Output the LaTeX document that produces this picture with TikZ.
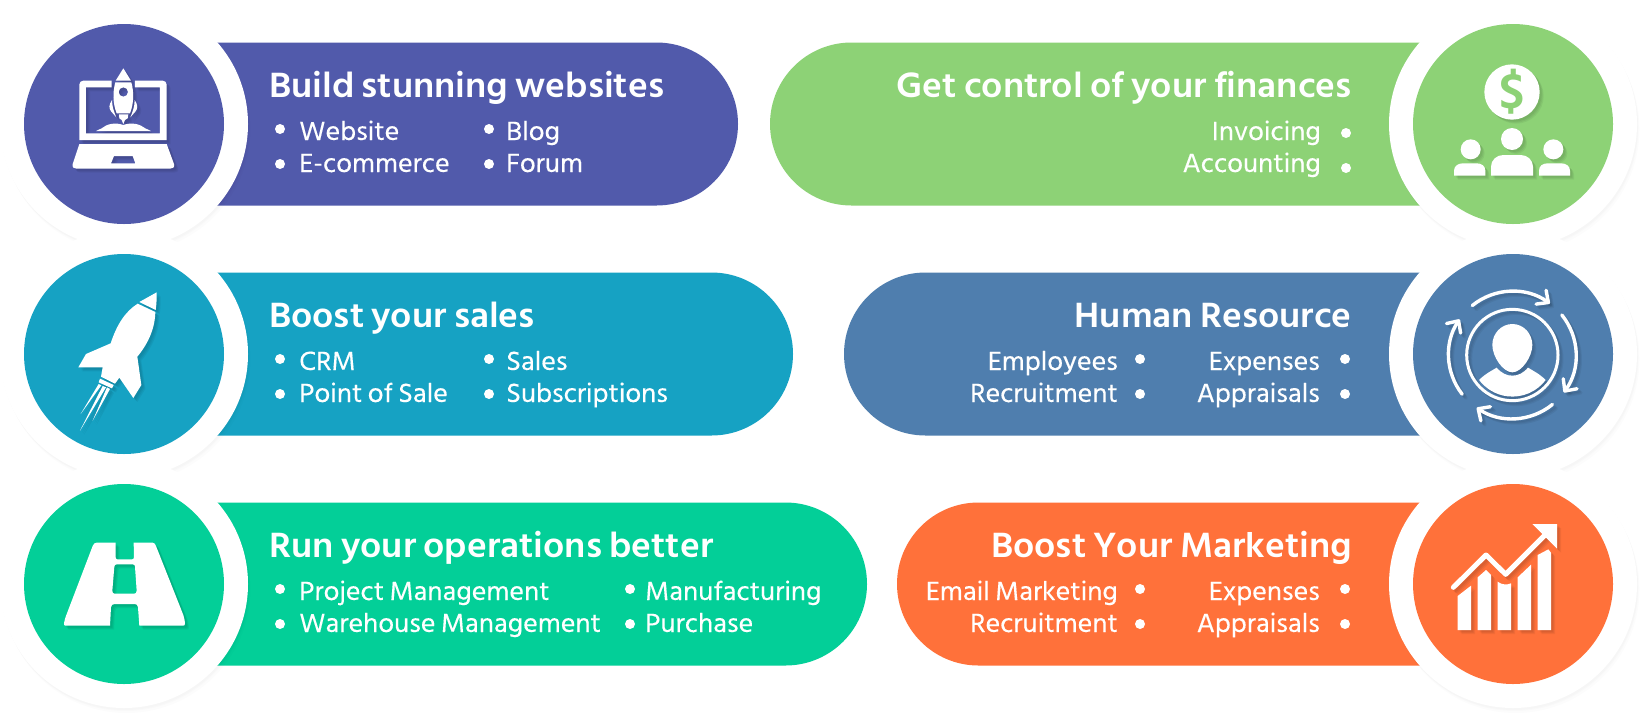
\documentclass[tikz,border=0pt]{standalone}
\usepackage{fontspec}
\setmainfont{Hind Siliguri}
\newfontfamily\titlefont{Hind Siliguri}[FakeStretch=1.045,WordSpace=0.8]
\newfontfamily\itemfont{Hind Siliguri}[FakeStretch=1.04,FakeBold=0.25,WordSpace=0.85]
\usetikzlibrary{arrows.meta}
\definecolor{buildblue}{HTML}{515AAB}
\definecolor{salesblue}{HTML}{16A2C3}
\definecolor{opsgreen}{HTML}{03CF98}
\definecolor{financegreen}{HTML}{8DD276}
\definecolor{hrblue}{HTML}{4F7EAE}
\definecolor{marketorange}{HTML}{FF713A}
\tikzset{
  bandtitle/.style={text=white,inner sep=0pt,font=\titlefont\fontsize{36}{36}\selectfont\bfseries},
  itemtext/.style={text=white,inner sep=0pt,font=\itemfont\fontsize{27}{27}\selectfont},
  barbtip/.style={-{Straight Barb[length=9pt,width=17pt,round]},line width=3.4pt,line cap=round}
}
\newcommand{\softshadow}[1]{%
  \foreach \d in {2,3,4}
  {
  \begin{scope}[shift={(\d,\d)},black,opacity=0.05] #1 \end{scope}
  }
  \begin{scope}[white] #1 \end{scope}
}
\newcommand{\laptopicon}{%
  \begin{scope}[scale=1/3]
  \fill (335,242) -- (250,242) .. controls (243,242) and (238,247) .. (238,254) -- (238,420) -- (500,420) -- (500,254) .. controls (500,247) and (495,242) .. (488,242) -- (405,242) -- (405,262) -- (480,262) -- (480,400) -- (258,400) -- (258,262) -- (335,262) -- cycle;
  \fill[even odd rule] (238,432) -- (500,432) -- (522,492) .. controls (524,503) and (518,506) .. (510,506) -- (230,506) .. controls (222,506) and (216,503) .. (218,492) -- cycle (342,468) -- (398,468) -- (406,490) -- (333,490) -- cycle;
  \fill (370,205) -- (393,242) -- (347,242) -- cycle;
  \fill[even odd rule] (346,247) -- (394,247) .. controls (402,275) and (402,310) .. (390,340) -- (350,340) .. controls (338,310) and (338,275) .. (346,247) -- cycle (370,276) circle (14);
  \fill (336,300) .. controls (326,315) and (326,325) .. (334,335) -- (349,352) .. controls (342,335) and (336,320) .. (336,300) -- cycle;
  \fill (404,300) .. controls (414,315) and (414,325) .. (406,335) -- (391,352) .. controls (398,335) and (404,320) .. (404,300) -- cycle;
  \fill (357,343) -- (385,343) -- (383,355) -- (375,360) -- (370,372) -- (365,360) -- (358,355) -- cycle;
  \fill (288,393) -- (305,385) .. controls (320,372) and (345,366) .. (370,375) .. controls (395,366) and (420,372) .. (436,385) -- (453,393) -- cycle;
  \end{scope}
}
\newcommand{\peopleicon}{%
  \begin{scope}[shift={(1340,0)},scale=1/3]
  \fill (516,276) circle (83);
  \fill (516,417) circle (33);
  \fill (392,448) circle (30);
  \fill (640,448) circle (30);
  \fill (453,527) -- (453,500) .. controls (453,480) and (470,465) .. (490,465) -- (542,465) .. controls (562,465) and (579,480) .. (579,500) -- (579,527) -- cycle;
  \fill (342,527) -- (342,512) .. controls (342,498) and (355,490) .. (368,490) -- (410,490) .. controls (425,490) and (436,498) .. (436,512) -- (436,527) -- cycle;
  \fill (597,527) -- (597,512) .. controls (597,498) and (608,490) .. (622,490) -- (664,490) .. controls (678,490) and (690,498) .. (690,512) -- (690,527) -- cycle;
  \end{scope}
}
\newcommand{\rocketicon}{%
  \begin{scope}[shift={(0,240)},scale=1/3]
  \fill (470,157) -- (418,186) -- (467,210) .. controls (470,190) and (470,175) .. (470,157) -- cycle;
  \fill (413,191) -- (466,216) .. controls (465,265) and (445,310) .. (412,350) -- (424,435) -- (400,474) -- (358,413) -- (345,431) -- (303,410) -- (308,382) -- (235,382) -- (258,342) -- (332,310) .. controls (350,255) and (375,215) .. (413,191) -- cycle;
  \fill (300,416) -- (341,435) -- (336,445) -- (296,427) -- cycle;
  \fill (296,432) -- (304,436) -- (242,522) -- cycle;
  \fill (321,442) -- (330,447) -- (278,542) -- cycle;
  \fill (308,438) -- (318,442) -- (240,572) -- cycle;
  \end{scope}
}
\newcommand{\personicon}{%
  \begin{scope}[shift={(1380,240)},scale=1/3]
  \draw[line width=3pt] (397,345) circle (137);
  \fill (397,252) .. controls (430,252) and (457,280) .. (457,315) .. controls (457,350) and (425,397) .. (397,397) .. controls (369,397) and (337,350) .. (337,315) .. controls (337,280) and (364,252) .. (397,252) -- cycle;
  \fill (297,420) .. controls (315,402) and (335,392) .. (350,383) .. controls (365,400) and (380,407) .. (397,407) .. controls (414,407) and (429,400) .. (444,383) .. controls (459,392) and (479,402) .. (497,420) arc (37:143:125) -- cycle;
  \draw[barbtip] (397,345) ++(-129:191) arc (-129:-54:191);
  \draw[barbtip] (397,345) ++(-39:191) arc (-39:36:191);
  \draw[barbtip] (397,345) ++(51:191) arc (51:124:191);
  \draw[barbtip] (397,345) ++(142:191) arc (142:214:191);
  \end{scope}
}
\newcommand{\roadicon}{%
  \begin{scope}[shift={(0,470)},scale=1/3]
  \fill[even odd rule] (347,218) -- (347,262) .. controls (347,266) and (349,268) .. (352,268) -- (396,268) .. controls (399,268) and (402,266) .. (402,262) -- (401,218) -- (458,218) .. controls (463,218) and (466,222) .. (468,228) -- (550,435) .. controls (553,445) and (555,455) .. (555,460) .. controls (555,465) and (553,467) .. (550,467) -- (418,467) -- (414,412) .. controls (413,405) and (410,402) .. (404,402) -- (344,402) .. controls (337,402) and (334,405) .. (333,412) -- (330,467) -- (197,467) .. controls (193,467) and (191,465) .. (192,460) .. controls (193,452) and (196,442) .. (199,435) -- (278,228) .. controls (281,221) and (284,218) .. (290,218) -- cycle
    (350,283) -- (398,283) .. controls (403,283) and (405,286) .. (405,290) -- (410,362) .. controls (410,368) and (407,371) .. (403,371) -- (344,371) .. controls (339,371) and (337,368) .. (337,362) -- (343,290) .. controls (343,286) and (346,283) .. (350,283) -- cycle;
  \end{scope}
}
\newcommand{\charticon}{%
  \begin{scope}[shift={(1380,470)},scale=1/3]
  \fill (233,480) -- (233,378) -- (273,347) -- (273,480) -- cycle;
  \fill (293,480) -- (293,322) -- (318,300) -- (333,315) -- (333,480) -- cycle;
  \fill (353,480) -- (353,335) .. controls (365,345) and (381,345) .. (393,340) -- (393,480) -- cycle;
  \fill (413,480) -- (413,322) -- (453,284) -- (453,480) -- cycle;
  \fill (473,480) -- (473,255) -- (505,238) -- (513,248) -- (513,480) -- cycle;
  \draw[line width=5pt,line cap=round,line join=round] (220,352) -- (318,255) -- (377,313) -- (495,195);
  \fill (457,162) -- (531,162) -- (531,236) -- cycle;
  \end{scope}
}
\begin{document}
\begin{tikzpicture}[x=1pt,y=1pt,yscale=-1]
  \useasboundingbox (0,0) rectangle (1640,713);
  \fill[white] (0,0) rectangle (1640,713);

  \foreach \cy/\xe/\col in {124/738/buildblue,354/793/salesblue,584/867/opsgreen}
  {
  \fill[\col] (200,\cy-81.5) -- (\xe-81.5,\cy-81.5) arc (-90:90:81.5) -- (200,\cy+81.5) -- cycle;
  }
  \foreach \cy/\xs/\col in {124/770/financegreen,354/844/hrblue,584/897/marketorange}
  {
  \fill[\col] (1440,\cy-81.5) -- (\xs+81.5,\cy-81.5) arc (-90:-270:81.5) -- (1440,\cy+81.5) -- cycle;
  }

  \foreach \cx in {124,1513}
  {
  \foreach \cy in {124,354,584}
  {
  \foreach \d in {2,3,5}
  {
  \fill[black,opacity=0.012] (\cx+\d/2,\cy+\d) circle (124);
  }
  }
  }
  \foreach \cx in {124,1513}
  {
  \foreach \cy in {124,354,584}
  {
  \fill[white] (\cx,\cy) circle (124);
  }
  }
  \foreach \cx/\cy/\col in {124/124/buildblue,124/354/salesblue,124/584/opsgreen,1513/124/financegreen,1513/354/hrblue,1513/584/marketorange}
  {
  \fill[\col] (\cx,\cy) circle (100);
  }

  \softshadow{\laptopicon}
  \softshadow{\peopleicon}
  \softshadow{\rocketicon}
  \softshadow{\personicon}
  \softshadow{\roadicon}
  \softshadow{\charticon}
  \node[text=financegreen,inner sep=0pt,font=\fontsize{50}{50}\selectfont\bfseries] (dollar) at (1512,92) {\$};

  \node[bandtitle,anchor=base west] (buildtitle) at (269,97) {Build stunning websites};
  \node[bandtitle,anchor=base west] (salestitle) at (269,327) {Boost your sales};
  \node[bandtitle,anchor=base west] (opstitle) at (269,557) {Run your operations better};
  \node[bandtitle,anchor=base east] (financetitle) at (1352,97) {Get control of your finances};
  \node[bandtitle,anchor=base east] (hrtitle) at (1352,327) {Human Resource};
  \node[bandtitle,anchor=base east] (markettitle) at (1352,557) {Boost Your Marketing};

  \foreach \nm/\bx/\tx/\row/\txt in {website/280/299/0/Website,ecommerce/280/299/1/E-commerce,blog/489/506/0/Blog,forum/489/506/1/Forum}
  {
  \fill[white] (\bx,129+35*\row) circle (5);
  \node[itemtext,anchor=base west] (\nm) at (\tx,140+32*\row) {\txt};
  }
  \foreach \nm/\bx/\tx/\row/\txt in {crm/280/299/0/CRM,pointofsale/280/299/1/Point of Sale,sales/489/506/0/Sales,subscriptions/489/506/1/Subscriptions}
  {
  \fill[white] (\bx,359+35*\row) circle (5);
  \node[itemtext,anchor=base west] (\nm) at (\tx,370+32*\row) {\txt};
  }
  \foreach \nm/\bx/\tx/\row/\txt in {project/280/299/0/Project Management,warehouse/280/299/1/Warehouse Management,manufacturing/630/645/0/Manufacturing,purchase/630/645/1/Purchase}
  {
  \fill[white] (\bx,589+35*\row) circle (5);
  \node[itemtext,anchor=base west] (\nm) at (\tx,600+32*\row) {\txt};
  }
  \foreach \nm/\bx/\tx/\row/\txt in {invoicing/1346/1321/0/Invoicing,accounting/1346/1321/1/Accounting}
  {
  \fill[white] (\bx,133+35*\row) circle (5);
  \node[itemtext,anchor=base east] (\nm) at (\tx,140+32*\row) {\txt};
  }
  \foreach \nm/\bx/\tx/\row/\txt in {employees/1140/1118/0/Employees,recruit/1140/1118/1/Recruitment,expenses/1345/1320/0/Expenses,appraisals/1345/1320/1/Appraisals}
  {
  \fill[white] (\bx,359+35*\row) circle (5);
  \node[itemtext,anchor=base east] (\nm) at (\tx,370+32*\row) {\txt};
  }
  \foreach \nm/\bx/\tx/\row/\txt in {email/1140/1118/0/Email Marketing,recruitb/1140/1118/1/Recruitment,expensesb/1345/1320/0/Expenses,appraisalsb/1345/1320/1/Appraisals}
  {
  \fill[white] (\bx,589+35*\row) circle (5);
  \node[itemtext,anchor=base east] (\nm) at (\tx,600+32*\row) {\txt};
  }
\end{tikzpicture}
\end{document}
